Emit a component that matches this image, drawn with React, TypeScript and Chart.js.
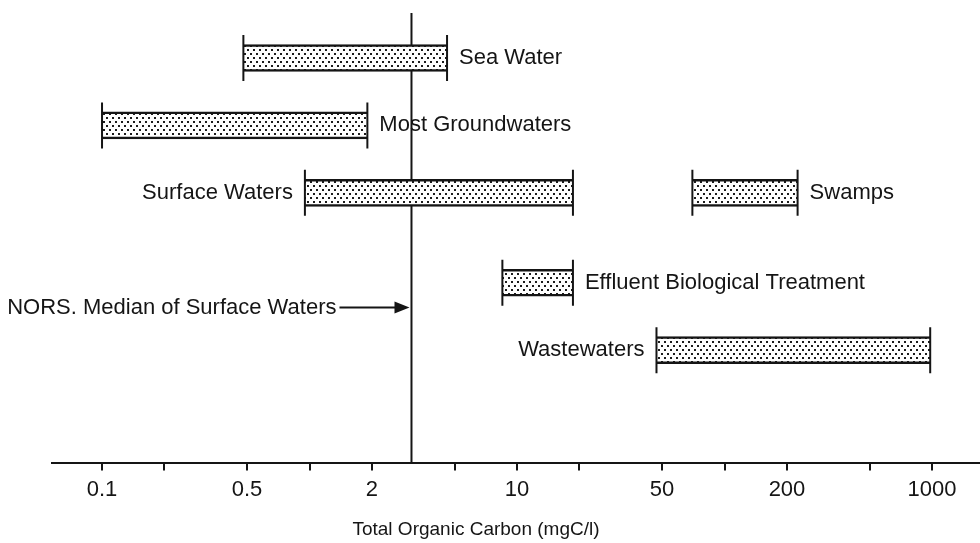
import React, { useEffect, useRef } from "react";
import { Chart, registerables } from "chart.js";

Chart.register(...registerables);

// ---- data ----
const categories = [
  "Sea Water",
  "Most Groundwaters",
  "Surface Waters",
  "Swamps",
  "Effluent Biological Treatment",
  "Wastewaters",
];
const lowValues = [0.48, 0.1, 0.95, 70, 8.5, 47];
const highValues = [4.6, 1.9, 18.6, 225, 18.6, 980];
const rowLevels = [9, 7.5, 6, 6, 4, 2.5];
const labelSides = ["right", "right", "left", "right", "right", "left"];

const tickValues = [0.1, 0.2, 0.5, 1, 2, 5, 10, 20, 50, 100, 200, 500, 1000];
const tickLabels = ["0.1", "", "0.5", "", "2", "", "10", "", "50", "", "200", "", "1000"];

const medianValue = 3.1;
const medianLabel = "NORS. Median of Surface Waters";
const medianArrowLevel = 3.45;
const axisTitle = "Total Organic Carbon (mgC/l)";

const FONT = "'Liberation Sans', Arial, sans-serif";
const INK = "#151515";

function makeStipple(): CanvasPattern | string {
  const c = document.createElement("canvas");
  c.width = 6;
  c.height = 8;
  const g = c.getContext("2d");
  if (!g) return "#ccc";
  g.fillStyle = "#ffffff";
  g.fillRect(0, 0, 6, 8);
  g.fillStyle = "#1c1c1c";
  g.fillRect(1, 1, 2, 2);
  g.fillRect(4, 5, 2, 2);
  const p = g.createPattern(c, "repeat");
  return p || "#ccc";
}

const labelPlugin = {
  id: "labelPlugin",
  afterDatasetsDraw(chart: any) {
    const { ctx, scales } = chart;
    const xs = scales.x;
    const ys = scales.y;
    ctx.save();
    ctx.fillStyle = INK;
    ctx.font = `22px ${FONT}`;
    ctx.textBaseline = "middle";
    categories.forEach((name, i) => {
      const y = ys.getPixelForValue(rowLevels[i]);
      if (labelSides[i] === "right") {
        ctx.textAlign = "left";
        ctx.fillText(name, xs.getPixelForValue(highValues[i]) + 12, y);
      } else {
        ctx.textAlign = "right";
        ctx.fillText(name, xs.getPixelForValue(lowValues[i]) - 12, y);
      }
    });
    // median arrow + label
    const tipX = xs.getPixelForValue(medianValue) - 2;
    const ay = ys.getPixelForValue(medianArrowLevel);
    const startX = tipX - 70;
    ctx.strokeStyle = INK;
    ctx.lineWidth = 2;
    ctx.beginPath();
    ctx.moveTo(startX, ay);
    ctx.lineTo(tipX - 10, ay);
    ctx.stroke();
    ctx.beginPath();
    ctx.moveTo(tipX, ay);
    ctx.lineTo(tipX - 15, ay - 6);
    ctx.lineTo(tipX - 15, ay + 6);
    ctx.closePath();
    ctx.fill();
    ctx.textAlign = "right";
    ctx.fillText(medianLabel, startX - 3, ay);
    // axis title
    ctx.font = `19px ${FONT}`;
    ctx.textAlign = "center";
    ctx.fillText(axisTitle, 476, 530);
    ctx.restore();
  },
};

export default function App() {
  const ref = useRef<HTMLCanvasElement | null>(null);

  useEffect(() => {
    const canvas = ref.current;
    if (!canvas) return;
    const stipple = makeStipple();

    const barData = categories.map((_, i) => ({
      x: [lowValues[i], highValues[i]],
      y: rowLevels[i],
    }));
    const capData: { x: number; y: number }[] = [];
    categories.forEach((_, i) => {
      capData.push({ x: lowValues[i], y: rowLevels[i] });
      capData.push({ x: highValues[i], y: rowLevels[i] });
    });

    const chart = new Chart(canvas, {
      type: "bar",
      data: {
        datasets: [
          {
            type: "scatter",
            data: capData,
            pointStyle: "line",
            rotation: 90,
            radius: 23,
            borderWidth: 2,
            borderColor: INK,
            backgroundColor: INK,
            order: 0,
          } as any,
          {
            type: "bar",
            indexAxis: "y",
            data: barData,
            backgroundColor: stipple,
            borderColor: INK,
            borderWidth: { top: 2.5, bottom: 2.5, left: 0, right: 0 },
            borderSkipped: false,
            barThickness: 27,
            order: 1,
          } as any,
          {
            type: "line",
            data: [
              { x: medianValue, y: 0 },
              { x: medianValue, y: 10 },
            ],
            borderColor: INK,
            borderWidth: 2,
            pointRadius: 0,
            order: 2,
          } as any,
        ],
      },
      options: {
        responsive: false,
        animation: false,
        layout: { autoPadding: false, padding: { left: 52, right: 0, top: 13, bottom: 34 } },
        plugins: {
          legend: { display: false },
          tooltip: { enabled: false },
          title: { display: false },
        },
        scales: {
          x: {
            type: "logarithmic",
            position: "bottom",
            min: 0.0574,
            max: 1703,
            offset: false,
            afterBuildTicks: (scale: any) => {
              scale.ticks = tickValues.map((v) => ({ value: v }));
            },
            afterFit: (scale: any) => {
              scale.paddingLeft = 0;
              scale.paddingRight = 0;
            },
            ticks: {
              autoSkip: false,
              maxRotation: 0,
              color: INK,
              padding: 6,
              font: { family: FONT, size: 22 },
              callback: (value: any) => {
                const idx = tickValues.indexOf(Number(value));
                return idx >= 0 ? tickLabels[idx] : "";
              },
            },
            grid: {
              display: true,
              offset: false,
              drawOnChartArea: false,
              drawTicks: true,
              tickLength: 8,
              color: INK,
              lineWidth: 2,
            },
            border: { display: true, color: INK, width: 2 },
          },
          y: {
            type: "linear",
            display: false,
            min: 0,
            max: 10,
            offset: false,
          },
        },
      } as any,
      plugins: [labelPlugin],
    });

    return () => chart.destroy();
  }, []);

  return (
    <div style={{ position: "absolute", left: 0, top: 0, width: 980, height: 543, background: "#fff" }}>
      <canvas ref={ref} width={980} height={543} />
    </div>
  );
}
